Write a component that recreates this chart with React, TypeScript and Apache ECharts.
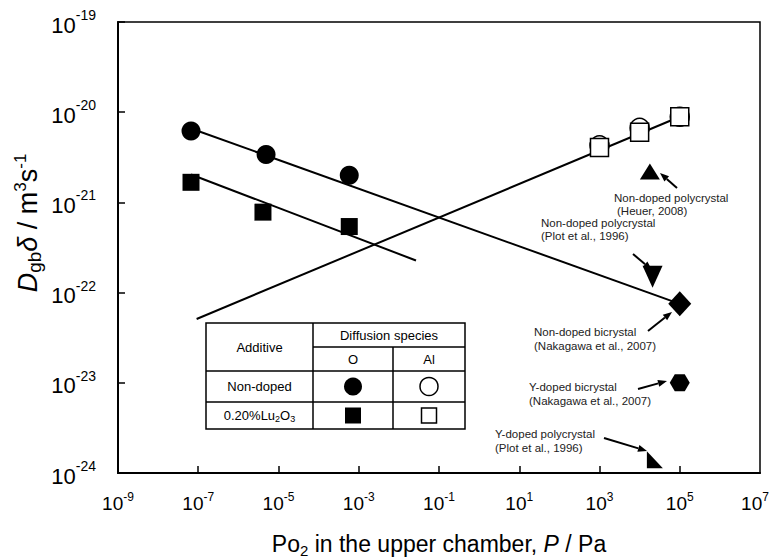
import React, { useEffect, useRef } from 'react';
import * as echarts from 'echarts';

// ---------- data ----------
const xLabelValues = [1e-9, 1e-7, 1e-5, 1e-3, 1e-1, 1e1, 1e3, 1e5, 1e7];
const xTickValues = [1e-7, 1e-5, 1e-3, 1e-1, 1e1, 1e3, 1e5];
const yLabelValues = [1e-24, 1e-23, 1e-22, 1e-21, 1e-20, 1e-19];

// Non-doped, O diffusion
const nonDopedO_P = [6.6e-8, 4.9e-6, 5.8e-4];
const nonDopedO_D = [6.2e-21, 3.4e-21, 2.0e-21];
// 0.20% Lu2O3, O diffusion
const luO_P = [6.6e-8, 4.1e-6, 5.8e-4];
const luO_D = [1.67e-21, 7.8e-22, 5.4e-22];
// Non-doped, Al diffusion
const nonDopedAl_P = [1e3, 1e4, 1e5];
const nonDopedAl_D = [4.3e-21, 6.7e-21, 8.9e-21];
// 0.20% Lu2O3, Al diffusion
const luAl_P = [1e3, 1e4, 1e5];
const luAl_D = [4.06e-21, 6.0e-21, 8.9e-21];

// fitted lines (endpoints)
const fitNonDopedO_P = [6.6e-8, 1e5];
const fitNonDopedO_D = [6.6e-21, 7.5e-23];
const fitLuO_P = [6.6e-8, 2.67e-2];
const fitLuO_D = [2.04e-21, 2.27e-22];
const fitAl_P = [9.1e-8, 1e5];
const fitAl_D = [5.1e-23, 8.9e-21];

// literature points
const heuerPoly = [1.8e4, 2.2e-21];
const plotPoly = [2.1e4, 1.5e-22];
const nakagawaBi = [1e5, 7.5e-23];
const nakagawaYBi = [1e5, 1.0e-23];
const plotYPoly = [2.4e4, 1.4e-24];

const FONT = '"Liberation Sans", Arial, Helvetica, sans-serif';

const zip = (a: number[], b: number[]) => a.map((v, i) => [v, b[i]]);

function arrow(x1: number, y1: number, x2: number, y2: number) {
  const ang = Math.atan2(y2 - y1, x2 - x1);
  const L = 9, W = 3.5;
  const bx = x2 - L * Math.cos(ang), by = y2 - L * Math.sin(ang);
  const px = -Math.sin(ang) * W, py = Math.cos(ang) * W;
  return [
    { type: 'line', z: 50, shape: { x1, y1, x2: bx, y2: by }, style: { stroke: '#000', lineWidth: 2 } },
    {
      type: 'polygon', z: 50,
      shape: { points: [[x2, y2], [bx + px, by + py], [bx - px, by - py]] },
      style: { fill: '#000' },
    },
  ];
}

function annot(x: number, y: number, lines: string[], dx2 = 0, gap = 13) {
  return lines.map((t, i) => ({
    type: 'text', z: 50, x: x + (i === 1 ? dx2 : 0), y: y + i * gap,
    style: { text: t, font: `11.5px ${FONT}`, lineHeight: 11, fill: '#222', align: 'left', verticalAlign: 'middle' },
  }));
}

function table() {
  const L = 206, R = 465, T = 323, B = 429, C1 = 313, C2 = 393, H1 = 347, H2 = 371, R2 = 402;
  const ls = { stroke: '#000', lineWidth: 1.5 };
  const ln = (x1: number, y1: number, x2: number, y2: number) => ({ type: 'line', z: 60, shape: { x1, y1, x2, y2 }, style: ls });
  const txt = (x: number, y: number, text: string, rich?: any) => ({
    type: 'text', z: 61, x, y,
    style: { text, font: `13px ${FONT}`, fill: '#000', align: 'center', verticalAlign: 'middle', rich },
  });
  const cx1 = (C1 + C2) / 2, cx2 = (C2 + R) / 2;
  const r1 = (H2 + R2) / 2, r2 = (R2 + B) / 2;
  return [
    { type: 'rect', z: 59, shape: { x: L, y: T, width: R - L, height: B - T }, style: { fill: '#fff', stroke: '#000', lineWidth: 1.5 } },
    ln(C1, T, C1, B), ln(C2, H1, C2, B), ln(C1, H1, R, H1), ln(L, H2, R, H2), ln(L, R2, R, R2),
    txt((L + C1) / 2, (T + H2) / 2, 'Additive'),
    txt((C1 + R) / 2, (T + H1) / 2, 'Diffusion species'),
    txt(cx1, (H1 + H2) / 2, 'O'),
    txt(cx2, (H1 + H2) / 2, 'Al'),
    txt((L + C1) / 2, r1, 'Non-doped'),
    txt((L + C1) / 2, r2, '{n|0.20%Lu}{s|2}{n|O}{s|3}', {
      n: { fontSize: 13, fontFamily: FONT, lineHeight: 16, verticalAlign: 'middle' },
      s: { fontSize: 9, fontFamily: FONT, lineHeight: 10, verticalAlign: 'bottom' },
    }),
    { type: 'circle', z: 61, shape: { cx: cx1, cy: r1, r: 9 }, style: { fill: '#000' } },
    { type: 'circle', z: 61, shape: { cx: cx2, cy: r1, r: 9 }, style: { fill: '#fff', stroke: '#000', lineWidth: 1.5 } },
    { type: 'rect', z: 61, shape: { x: cx1 - 8, y: r2 - 8, width: 16, height: 16 }, style: { fill: '#000' } },
    { type: 'rect', z: 61, shape: { x: cx2 - 7.5, y: r2 - 7.5, width: 15, height: 15 }, style: { fill: '#fff', stroke: '#000', lineWidth: 1.5 } },
  ];
}

const supFmt = (v: number) => `{b|10}{s|${Math.round(Math.log10(v))}}`;
// last x label sits at the chart's right edge: pad it so its glyphs stay inside
const xSupFmt = (v: number) => {
  const e = Math.round(Math.log10(v));
  return e >= 7 ? `{b|10}{e|${e}}` : `{b|10}{s|${e}}`;
};

export default function App() {
  const ref = useRef<HTMLDivElement>(null);
  useEffect(() => {
    if (!ref.current) return;
    const chart = echarts.init(ref.current, undefined, { renderer: 'svg' });
    const lineSeries = (name: string, xs: number[], ys: number[]) => ({
      name, type: 'line', data: zip(xs, ys), symbol: 'none', z: 2,
      lineStyle: { color: '#000', width: 2 },
    });
    const scatter = (name: string, data: number[][], symbol: string, size: any, item: any, extra: any = {}) => ({
      name, type: 'scatter', data, symbol, symbolSize: size, itemStyle: { opacity: 1, ...item }, z: 3, ...extra,
    });
    const filled = { color: '#000' };
    const open = { color: '#fff', borderColor: '#000', borderWidth: 1.5 };

    chart.setOption({
      animation: false,
      backgroundColor: '#fff',
      textStyle: { fontFamily: FONT },
      grid: {
        left: 118, right: 10, top: 22, bottom: 86, outerBoundsMode: 'none', containLabel: false,
        show: true, borderColor: '#000', borderWidth: 1.5, backgroundColor: 'transparent',
      },
      xAxis: {
        type: 'log', logBase: 10, min: 1e-9, max: 1e7,
        axisLine: { show: true, onZero: false, lineStyle: { color: '#000', width: 2 } },
        axisTick: { show: true, inside: true, length: 7, customValues: xTickValues, lineStyle: { color: '#000', width: 1.5 } },
        axisLabel: {
          customValues: xLabelValues, margin: 18, formatter: xSupFmt, color: '#000',
          rich: {
            b: { fontSize: 19, fontFamily: FONT, lineHeight: 22, verticalAlign: 'bottom', color: '#000' },
            s: { fontSize: 12, fontFamily: FONT, lineHeight: 12, verticalAlign: 'top', color: '#000' },
            e: { fontSize: 12, fontFamily: FONT, lineHeight: 12, verticalAlign: 'top', color: '#000', padding: [0, 10, 0, 0] },
          },
        },
        minorTick: { show: false },
        splitLine: { show: false },
        name: '{n|Po}{sub|2}{n| in the upper chamber, }{i|P}{n| / Pa}',
        nameLocation: 'middle', nameGap: 57,
        nameTextStyle: {
          rich: {
            n: { fontSize: 23, fontFamily: FONT, lineHeight: 28, verticalAlign: 'middle', color: '#000' },
            i: { fontSize: 23, fontFamily: FONT, fontStyle: 'italic', lineHeight: 28, verticalAlign: 'middle', color: '#000' },
            sub: { fontSize: 15, fontFamily: FONT, lineHeight: 14, verticalAlign: 'bottom', color: '#000' },
          },
        },
      },
      yAxis: {
        type: 'log', logBase: 10, min: 1e-24, max: 1e-19,
        axisLine: { show: true, onZero: false, lineStyle: { color: '#000', width: 2 } },
        axisTick: { show: true, inside: true, length: 7, lineStyle: { color: '#000', width: 1.5 } },
        axisLabel: {
          customValues: yLabelValues, margin: 22, formatter: supFmt, color: '#000',
          rich: {
            b: { fontSize: 22, fontFamily: FONT, lineHeight: 28, verticalAlign: 'bottom', color: '#000' },
            s: { fontSize: 14, fontFamily: FONT, lineHeight: 16, verticalAlign: 'top', color: '#000' },
          },
        },
        minorTick: { show: false },
        splitLine: { show: false },
      },
      series: [
        lineSeries('fit non-doped O', fitNonDopedO_P, fitNonDopedO_D),
        lineSeries('fit Lu2O3 O', fitLuO_P, fitLuO_D),
        lineSeries('fit Al', fitAl_P, fitAl_D),
        scatter('Non-doped O', zip(nonDopedO_P, nonDopedO_D), 'circle', 19, filled),
        scatter('0.20%Lu2O3 O', zip(luO_P, luO_D), 'rect', 17, filled),
        scatter('Non-doped Al', zip(nonDopedAl_P, nonDopedAl_D), 'circle', 19, open),
        scatter('0.20%Lu2O3 Al', zip(luAl_P, luAl_D), 'rect', 18, open, { z: 4 }),
        scatter('Non-doped polycrystal (Heuer, 2008)', [heuerPoly], 'triangle', [20, 16], filled),
        scatter('Non-doped polycrystal (Plot et al., 1996)', [plotPoly], 'triangle', [20, 22], filled, { symbolRotate: 180 }),
        scatter('Non-doped bicrystal (Nakagawa et al., 2007)', [nakagawaBi], 'diamond', [23, 25], filled),
        scatter('Y-doped bicrystal (Nakagawa et al., 2007)', [nakagawaYBi], 'path://M0,5L2.9,0L8.7,0L11.6,5L8.7,10L2.9,10Z', [20, 17], filled),
        scatter('Y-doped polycrystal (Plot et al., 1996)', [plotYPoly], 'path://M0,0L0,10L10,10Z', [16, 17], filled),
      ],
      graphic: [
        {
          type: 'text', x: 28, y: 223, rotation: Math.PI / 2,
          style: {
            text: '{i|D}{sub|gb}{i|δ}{n| / m}{sup|3}{n|s}{sup|-1}',
            align: 'center', verticalAlign: 'middle',
            rich: {
              n: { fontSize: 27, fontFamily: FONT, lineHeight: 32, verticalAlign: 'middle', fill: '#000', color: '#000' },
              i: { fontSize: 27, fontFamily: FONT, fontStyle: 'italic', lineHeight: 32, verticalAlign: 'middle', fill: '#000', color: '#000' },
              sub: { fontSize: 19, fontFamily: FONT, lineHeight: 16, verticalAlign: 'bottom', fill: '#000', color: '#000' },
              sup: { fontSize: 17, fontFamily: FONT, lineHeight: 16, verticalAlign: 'top', fill: '#000', color: '#000' },
            },
          },
        },
        ...annot(614, 198, ['Non-doped polycrystal', '(Heuer, 2008)'], 3, 12.5),
        ...arrow(677, 188, 660, 173),
        ...annot(541, 223, ['Non-doped polycrystal', '(Plot et al., 1996)'], 0, 12.5),
        ...arrow(633, 254, 652, 270),
        ...annot(534, 332, ['Non-doped bicrystal', '(Nakagawa et al., 2007)'], 0, 14),
        ...arrow(648, 331, 672, 312),
        ...annot(529, 387, ['Y-doped bicrystal', '(Nakagawa et al., 2007)'], 0, 14),
        ...arrow(638, 389, 667, 381),
        ...annot(495, 434, ['Y-doped polycrystal', '(Plot et al., 1996)'], 0, 14),
        ...arrow(604, 438, 647, 451),
        ...table(),
      ],
    });
    return () => chart.dispose();
  }, []);
  return <div ref={ref} style={{ position: 'absolute', left: 0, top: 0, width: 770, height: 559 }} />;
}
